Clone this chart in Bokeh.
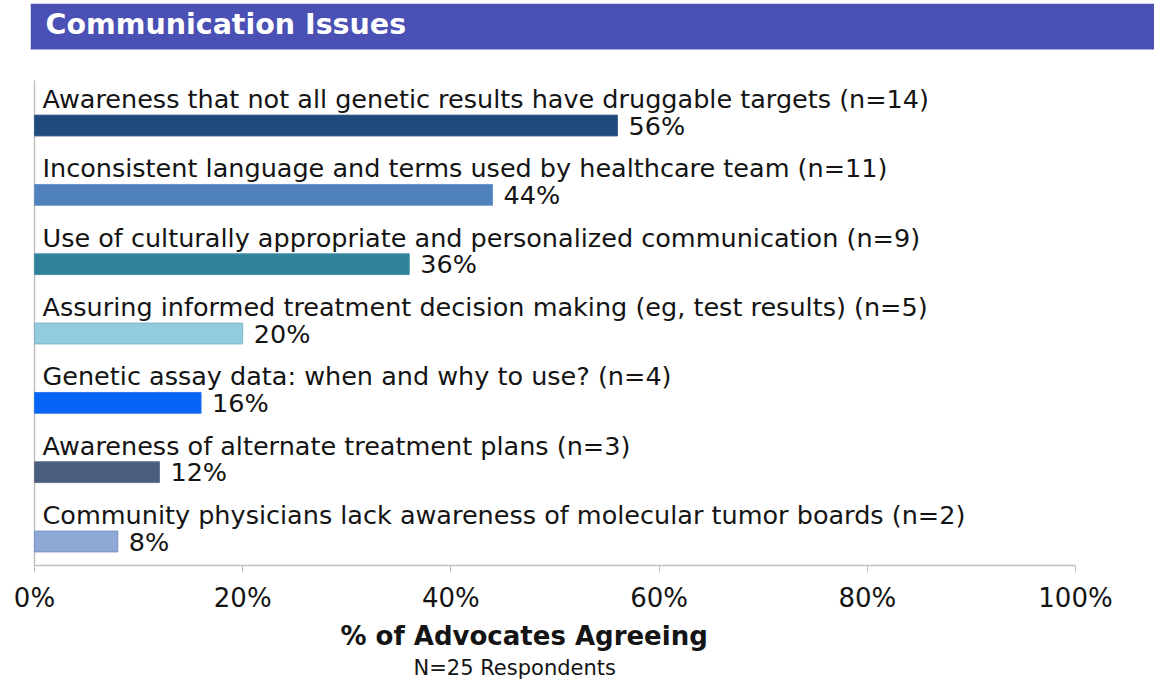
from bokeh.plotting import figure
from bokeh.models import Range1d, ColumnDataSource, BoxAnnotation, Label, Title, FixedTicker
from bokeh.core.properties import value
from bokeh.embed import file_html
from bokeh.resources import INLINE

# ---- data ----
categories = [
    "Awareness that not all genetic results have druggable targets",
    "Inconsistent language and terms used by healthcare team",
    "Use of culturally appropriate and personalized communication",
    "Assuring informed treatment decision making (eg, test results)",
    "Genetic assay data: when and why to use? ",
    "Awareness of alternate treatment plans",
    "Community physicians lack awareness of molecular tumor boards",
]
counts = [14, 11, 9, 5, 4, 3, 2]
percents = [56, 44, 36, 20, 16, 12, 8]
bar_colors = ["#1f4a7e", "#4f81bd", "#2e809b", "#92cbdc", "#0563f5", "#4a5d7e", "#8ea9d6"]
bar_lines = ["#3d5f8f", "#6a93c6", "#4a93aa", "#7fb5c8", "#2a75e8", "#5f7090", "#7a94c0"]
tick_values = [0, 20, 40, 60, 80, 100]
tick_labels = ["0%", "20%", "40%", "60%", "80%", "100%"]
title_text = "Communication Issues"
axis_title = "% of Advocates Agreeing"
footnote = "N=25 Respondents"

FONT = "DejaVu Sans"
TXT = "#141414"

ys = list(range(len(categories)))
src = ColumnDataSource(dict(
    y=ys,
    ylab=[y - 0.382 for y in ys],
    pct=percents,
    label=[f"{c} (n={n})" for c, n in zip(categories, counts)],
    pct_label=[f"{v}%" for v in percents],
    color=bar_colors,
    line=bar_lines,
))

p = figure(width=1154, height=679, output_backend="svg", toolbar_location=None,
           x_range=Range1d(-0.384, 107.59), y_range=Range1d(6.346, -1.760),
           y_axis_location=None, min_border_left=30, min_border_right=0,
           min_border_top=3, min_border_bottom=0)
p.outline_line_color = None
p.xgrid.visible = False
p.ygrid.visible = False
p.background_fill_color = "white"
p.border_fill_color = "white"

# banner
p.add_layout(BoxAnnotation(bottom=-1.096, fill_color="#4a50b4", fill_alpha=1.0,
                           line_color=None, level="underlay"))
p.add_layout(Label(x=1.057, y=-1.464, text=title_text, text_color="white",
                   text_font=FONT, text_font_style="bold", text_font_size="28.5px",
                   text_baseline="middle"))

# left axis line
p.segment(x0=[0], y0=[-0.649], x1=[0], y1=[6.346], line_color="#c0c0c0", line_width=1.5)

# bars
p.hbar(y="y", left=0, right="pct", height=0.30, fill_color="color", line_color="line",
       line_width=1, source=src)

# category labels
p.text(x=0, y="ylab", text="label", x_offset=8, text_baseline="middle",
       text_font=value(FONT), text_font_size="25.5px", text_color=TXT, source=src)
# value labels
p.text(x="pct", y="y", text="pct_label", x_offset=11, text_baseline="middle",
       text_font=value(FONT), text_font_size="25.5px", text_color=TXT, source=src)

ax = p.xaxis[0]
ax.ticker = FixedTicker(ticks=tick_values)
ax.major_label_overrides = {v: l for v, l in zip(tick_values, tick_labels)}
ax.bounds = (0, 100)
ax.axis_line_color = "#c0c0c0"
ax.axis_line_width = 1.5
ax.major_tick_line_color = "#c0c0c0"
ax.major_tick_out = 7
ax.major_tick_in = 0
ax.minor_tick_line_color = None
ax.major_label_standoff = 10
ax.major_label_text_font = FONT
ax.major_label_text_font_size = "26px"
ax.major_label_text_color = TXT

p.add_layout(Title(text=axis_title, align="left", offset=310, text_font=FONT,
                   text_font_style="bold", text_font_size="26px", text_color=TXT,
                   standoff=6), "below")
p.add_layout(Title(text=footnote, align="left", offset=383, text_font=FONT,
                   text_font_style="normal", text_font_size="21px", text_color=TXT,
                   standoff=0), "below")

open("out.html", "w").write(file_html(p, INLINE))
